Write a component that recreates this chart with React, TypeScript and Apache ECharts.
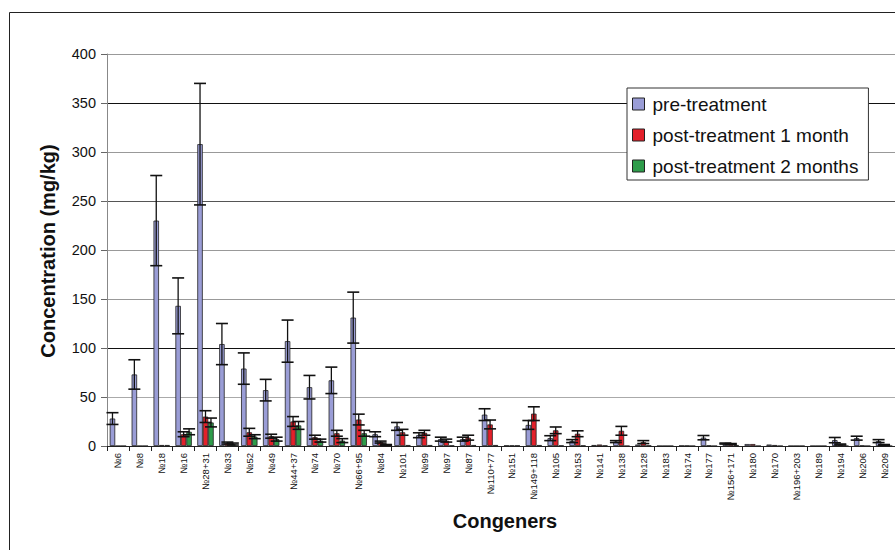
import React, { useEffect, useRef } from "react";
import * as echarts from "echarts";

const categories = ["№6","№8","№18","№16","№28+31","№33","№52","№49","№44+37","№74","№70","№66+95","№84","№101","№99","№97","№87","№110+77","№151","№149+118","№105","№153","№141","№138","№128","№183","№174","№177","№156+171","№180","№170","№196+203","№189","№194","№206","№209"];

const preTreatment = [28, 73, 230, 143, 308, 104, 79, 57, 107, 60, 67, 131, 12, 20, 11, 7, 7, 32, 0.5, 21.5, 8, 5, 1, 4.5, 1.5, 0, 0.3, 8.5, 2.5, 2, 1.5, 0, 0, 6, 8, 5];
const preErr = [6, 15, 46, 28.5, 62, 21, 16, 11, 21.5, 12, 13.5, 26, 2.5, 4, 2.5, 2, 2, 6, 0, 4.5, 2.5, 1.5, 0, 1, 0, 0, 0, 2.2, 0.5, 0, 0, 0, 0, 2.7, 2, 1.5];
const post1Month = [0, 0, 1, 12, 30, 3, 14, 10, 25, 9, 13, 27, 4, 14, 13.5, 5.5, 8.5, 22, 0.5, 33, 16, 12.5, 1.5, 15.5, 4, 0, 0.3, 0.5, 2, 2, 1, 0, 0, 1.5, 0.5, 1];
const post1Err = [0, 0, 0, 2.5, 6, 1, 4, 2, 5, 2, 3, 5.5, 1, 3, 2.5, 1.5, 2.5, 4.5, 0, 7, 3.4, 3, 0, 4.5, 1.5, 0, 0, 0, 0.5, 0, 0, 0, 0, 0.5, 0, 0.5];
const post2Months = [0, 0, 1, 14.5, 24, 2, 9.5, 7, 21, 5.5, 5.5, 13, 1, 1, 1, 0.5, 1, 1, 0.5, 1, 0.5, 0.5, 0.5, 0, 0.5, 0, 0, 0, 1, 0, 0, 0, 0, 0, 0, 0];
const post2Err = [0, 0, 0, 3, 4.5, 1, 2, 2, 4, 1.5, 2, 3, 0.5, 0, 0, 0, 0, 0, 0, 0, 0, 0, 0, 0, 0, 0, 0, 0, 0, 0, 0, 0, 0, 0, 0, 0];

const yTicks = { min: 0, max: 400, interval: 50 };
const seriesNames = ["pre-treatment", "post-treatment 1 month", "post-treatment 2 months"];
const colors = ["#9a9dd6", "#e3202a", "#2e9c4a"];

const FONT = "'Liberation Sans', Arial, Helvetica, sans-serif";
const GAP = 0.25;

function errorSeries(values: number[], errs: number[], offsetIndex: number) {
  return {
    type: "custom",
    z: 5,
    silent: true,
    encode: { x: 0, y: 1 },
    data: values.map((v, i) => [i, v, errs[i]]),
    renderItem: (params: any, api: any) => {
      const idx = api.value(0);
      const v = api.value(1);
      const e = api.value(2);
      if (!e) return null;
      const band = api.size([1, 0])[0];
      const bw = (band * (1 - GAP)) / 3;
      const base = api.coord([idx, v]);
      const hi = api.coord([idx, v + e]);
      const lo = api.coord([idx, Math.max(v - e, 0)]);
      const cx = base[0] + offsetIndex * bw;
      const cap = 6;
      const st = { stroke: "#111", lineWidth: 1.3 };
      return {
        type: "group",
        children: [
          { type: "line", shape: { x1: cx, y1: hi[1], x2: cx, y2: lo[1] }, style: st },
          { type: "line", shape: { x1: cx - cap, y1: hi[1], x2: cx + cap, y2: hi[1] }, style: { stroke: "#111", lineWidth: 1.6 } },
          { type: "line", shape: { x1: cx - cap, y1: lo[1], x2: cx + cap, y2: lo[1] }, style: { stroke: "#111", lineWidth: 1.6 } },
        ],
      };
    },
  };
}

export default function App() {
  const ref = useRef<HTMLDivElement>(null);
  useEffect(() => {
    const chart = echarts.init(ref.current!, null, { renderer: "svg" });
    const barBase = {
      type: "bar",
      barGap: "0%",
      barCategoryGap: `${GAP * 100}%`,
      itemStyle: { borderColor: "#222", borderWidth: 0.8 },
    };
    chart.setOption({
      animation: false,
      backgroundColor: "#fff",
      textStyle: { fontFamily: FONT },
      grid: { left: 107, right: -4, top: 54, bottom: 104 },
      legend: {
        orient: "vertical",
        left: 627,
        top: 88,
        padding: [5, 10, 3, 5],
        itemGap: 9,
        itemWidth: 12,
        itemHeight: 12,
        backgroundColor: "#fff",
        borderColor: "#333",
        borderWidth: 1,
        borderRadius: 0,
        textStyle: { fontSize: 19, color: "#111", fontFamily: FONT, lineHeight: 22, padding: [0, 0, 0, 3] },
        data: seriesNames.map((n, i) => ({ name: n, icon: "rect", itemStyle: { color: colors[i], borderColor: "#222", borderWidth: 1 } })),
      },
      xAxis: {
        type: "category",
        data: categories,
        axisLine: { lineStyle: { color: "#222", width: 1 } },
        axisTick: { show: true, length: 5, lineStyle: { color: "#222" } },
        axisLabel: { rotate: 90, fontSize: 9.5, color: "#111", margin: 7, interval: 0, fontFamily: FONT },
      },
      yAxis: {
        type: "value",
        min: yTicks.min,
        max: yTicks.max,
        interval: yTicks.interval,
        axisLine: { show: true, lineStyle: { color: "#888", width: 1 } },
        axisTick: { show: true, length: 6, lineStyle: { color: "#666" } },
        axisLabel: { fontSize: 14.5, color: "#111", margin: 11, fontFamily: FONT },
        splitLine: {
          show: true,
          lineStyle: { color: ["#888", "#aaa", "#111", "#999", "#999", "#555", "#999", "#111", "#999"], width: 1.2 },
        },
      },
      graphic: [
        { type: "rect", shape: { x: 9.5, y: 12.5, width: 1000, height: 1000 }, style: { fill: "none", stroke: "#222", lineWidth: 1 }, z: 100, silent: true },
        { type: "text", x: 48, y: 251, rotation: Math.PI / 2, style: { text: "Concentration (mg/kg)", font: `bold 20px ${FONT}`, fill: "#111", align: "center", verticalAlign: "middle" } },
        { type: "text", x: 505, y: 521, style: { text: "Congeners", font: `bold 20px ${FONT}`, fill: "#111", align: "center", verticalAlign: "middle" } },
      ],
      series: [
        { ...barBase, name: seriesNames[0], data: preTreatment, itemStyle: { ...barBase.itemStyle, color: colors[0] } },
        { ...barBase, name: seriesNames[1], data: post1Month, itemStyle: { ...barBase.itemStyle, color: colors[1] } },
        { ...barBase, name: seriesNames[2], data: post2Months, itemStyle: { ...barBase.itemStyle, color: colors[2] } },
        errorSeries(preTreatment, preErr, -1),
        errorSeries(post1Month, post1Err, 0),
        errorSeries(post2Months, post2Err, 1),
      ],
    });
    return () => chart.dispose();
  }, []);
  return <div ref={ref} style={{ position: "fixed", left: 0, top: 0, width: 895, height: 550 }} />;
}
